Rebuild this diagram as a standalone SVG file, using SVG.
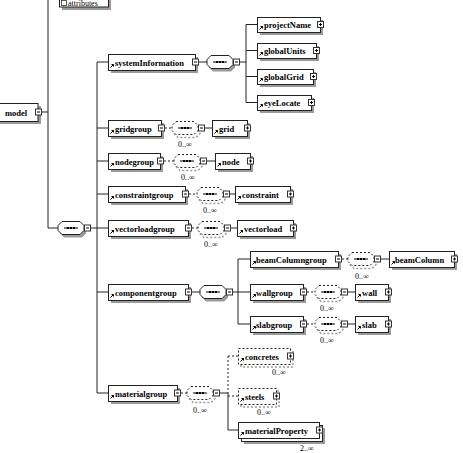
<svg xmlns="http://www.w3.org/2000/svg" xmlns:xlink="http://www.w3.org/1999/xlink" width="463" height="453" viewBox="0 0 463 453">
<style>
.el{fill:#fff;stroke:#222;stroke-width:1}
.opt{fill:#fff;stroke:#222;stroke-width:1;stroke-dasharray:2,2}
.sh{fill:#9a9a9a}
.shd{fill:none;stroke:#9a9a9a;stroke-width:1.5;stroke-dasharray:2,2}
.t{font-family:"Liberation Serif",serif;font-weight:bold;font-size:8.5px;fill:#000}
.o{font-family:"Liberation Serif",serif;font-size:8px;fill:#000}
.ln{fill:none;stroke:#222;stroke-width:1}
.dl{fill:none;stroke:#222;stroke-width:1;stroke-dasharray:2,2}
.pm{fill:#fff;stroke:#333;stroke-width:1}
</style>
<defs>
<g id="minus"><rect class="pm" x="0.5" y="0.5" width="6" height="6"/><path d="M2,3.5H5" stroke="#000" stroke-width="1"/></g>
<g id="plus"><rect class="pm" x="0.5" y="0.5" width="6" height="6"/><path d="M2,3.5H5M3.5,2V5" stroke="#000" stroke-width="1"/></g>
<g id="ref"><path d="M2.5,-2.5L5.5,-5.5M3.5,-5.5H5.5V-3.5" fill="none" stroke="#000" stroke-width="1"/></g>
<g id="seq"><path class="sh" d="M6,3H24L28,7V12L24,16H6L2,12V7Z"/><path class="el" d="M4,0H22L26,4V9L22,13H4L0,9V4Z"/><path d="M6,6.5H20" stroke="#000" stroke-width="1"/><rect x="9" y="5.5" width="2" height="2"/><rect x="12" y="5.5" width="2" height="2"/><rect x="15" y="5.5" width="2" height="2"/></g>
<g id="seqo"><path class="shd" d="M6,3H24L28,7V12L24,16H6L2,12V7Z"/><path class="opt" d="M4,0H22L26,4V9L22,13H4L0,9V4Z"/><path d="M6,6.5H20" stroke="#000" stroke-width="1"/><rect x="9" y="5.5" width="2" height="2"/><rect x="12" y="5.5" width="2" height="2"/><rect x="15" y="5.5" width="2" height="2"/></g>
</defs>
<rect width="463" height="453" fill="#fff"/>

<g id="connectors">
<path class="ln" d="M42,112H48M48,0V228H58M91,228H97M97,62V393M97,62H108M97,128H108M97,161H108M97,194H108M97,228H108M97,292H108M97,393H108"/>
<path class="ln" d="M199,62H207M240,62H246M246,24.5V102.5M246,24.5H257M246,50.5H257M246,76.5H257M246,102.5H257"/>
<path class="dl" d="M165,128H172M164,161H174M189,194H197M192,228H198"/>
<path class="ln" d="M205,128H212M207,161H215M230,194H235M231,228H237"/>
<path class="ln" d="M192,292H200M233,292H238M238,259V324M238,259H250M238,292H250M238,324H250"/>
<path class="dl" d="M342,259H348M307,292H315M307,324H315"/>
<path class="ln" d="M381,259H389M348,292H355M348,324H355"/>
<path class="dl" d="M181,393H187M228,356V393M228,356H238M228,396H238"/>
<path class="ln" d="M220,393H228M228,393V430H238"/>
</g>

<g id="attributes">
<rect class="sh" x="62" y="-7" width="49" height="17"/>
<rect class="el" x="59.5" y="-10" width="49" height="17"/>
<rect x="61.5" y="0.5" width="5" height="5" fill="#fff" stroke="#333" stroke-width="0.8"/>
<text class="o" x="68" y="6" font-size="6px">attributes</text>
</g>

<g id="model">
<rect class="sh" x="0" y="106" width="41" height="18"/>
<rect class="el" x="-3" y="103.5" width="41" height="18"/>
<text class="t" x="5" y="115.5">model</text>
<use href="#minus" x="35" y="108.5"/>
</g>
<g id="model-seq"><use href="#seq" x="58" y="221.5"/><use href="#minus" x="84" y="224.5"/></g>

<g id="systemInformation">
<rect class="sh" x="111" y="57" width="87" height="16"/>
<rect class="el" x="108.5" y="54.5" width="87" height="16"/>
<text class="t" x="115" y="65.5">systemInformation</text>
<use href="#ref" x="108" y="70"/>
<use href="#minus" x="192" y="58.5"/>
</g>
<g id="systemInformation-seq"><use href="#seq" x="207" y="55.5"/><use href="#minus" x="233" y="58.5"/></g>

<g id="projectName">
<rect class="sh" x="260" y="20" width="63" height="15"/>
<rect class="el" x="257.5" y="17.5" width="63" height="15"/>
<text class="t" x="264" y="28">projectName</text>
<use href="#ref" x="257" y="32"/>
<use href="#plus" x="317" y="21"/>
</g>
<g id="globalUnits">
<rect class="sh" x="260" y="46" width="59" height="15"/>
<rect class="el" x="257.5" y="43.5" width="59" height="15"/>
<text class="t" x="264" y="54">globalUnits</text>
<use href="#ref" x="257" y="58"/>
<use href="#plus" x="313" y="47"/>
</g>
<g id="globalGrid">
<rect class="sh" x="260" y="72" width="56" height="15"/>
<rect class="el" x="257.5" y="69.5" width="56" height="15"/>
<text class="t" x="264" y="80">globalGrid</text>
<use href="#ref" x="257" y="84"/>
<use href="#plus" x="310" y="73"/>
</g>
<g id="eyeLocate">
<rect class="sh" x="260" y="98" width="54" height="15"/>
<rect class="el" x="257.5" y="95.5" width="54" height="15"/>
<text class="t" x="264" y="106">eyeLocate</text>
<use href="#ref" x="257" y="110"/>
<use href="#plus" x="308" y="99"/>
</g>

<g id="gridgroup">
<rect class="sh" x="111" y="123" width="53" height="16"/>
<rect class="el" x="108.5" y="120.5" width="53" height="16"/>
<text class="t" x="115" y="131.5">gridgroup</text>
<use href="#ref" x="108" y="136"/>
<use href="#minus" x="158" y="124.5"/>
</g>
<g id="gridgroup-seq"><use href="#seqo" x="172" y="121.5"/><use href="#minus" x="198" y="124.5"/><text class="o" x="178" y="147">0..∞</text></g>
<g id="grid">
<rect class="sh" x="215" y="123" width="35" height="16"/>
<rect class="el" x="212.5" y="120.5" width="35" height="16"/>
<text class="t" x="219" y="131.5">grid</text>
<use href="#ref" x="212" y="136"/>
<use href="#plus" x="244" y="124.5"/>
</g>

<g id="nodegroup">
<rect class="sh" x="111" y="156" width="52" height="16"/>
<rect class="el" x="108.5" y="153.5" width="52" height="16"/>
<text class="t" x="115" y="164.5">nodegroup</text>
<use href="#ref" x="108" y="169"/>
<use href="#minus" x="157" y="157.5"/>
</g>
<g id="nodegroup-seq"><use href="#seqo" x="174" y="154.5"/><use href="#minus" x="200" y="157.5"/><text class="o" x="181" y="180">0..∞</text></g>
<g id="node">
<rect class="sh" x="218" y="156" width="35" height="16"/>
<rect class="el" x="215.5" y="153.5" width="35" height="16"/>
<text class="t" x="222" y="164.5">node</text>
<use href="#ref" x="215" y="169"/>
<use href="#plus" x="247" y="157.5"/>
</g>

<g id="constraintgroup">
<rect class="sh" x="111" y="189" width="77" height="16"/>
<rect class="el" x="108.5" y="186.5" width="77" height="16"/>
<text class="t" x="115" y="197.5">constraintgroup</text>
<use href="#ref" x="108" y="202"/>
<use href="#minus" x="182" y="190.5"/>
</g>
<g id="constraintgroup-seq"><use href="#seqo" x="197" y="187.5"/><use href="#minus" x="223" y="190.5"/><text class="o" x="203" y="213">0..∞</text></g>
<g id="constraint">
<rect class="sh" x="238" y="189" width="55" height="16"/>
<rect class="el" x="235.5" y="186.5" width="55" height="16"/>
<text class="t" x="242" y="197.5">constraint</text>
<use href="#ref" x="235" y="202"/>
<use href="#plus" x="287" y="190.5"/>
</g>

<g id="vectorloadgroup">
<rect class="sh" x="111" y="223" width="80" height="16"/>
<rect class="el" x="108.5" y="220.5" width="80" height="16"/>
<text class="t" x="115" y="231.5">vectorloadgroup</text>
<use href="#ref" x="108" y="236"/>
<use href="#minus" x="185" y="224.5"/>
</g>
<g id="vectorloadgroup-seq"><use href="#seqo" x="198" y="221.5"/><use href="#minus" x="224" y="224.5"/><text class="o" x="204" y="247">0..∞</text></g>
<g id="vectorload">
<rect class="sh" x="240" y="223" width="56" height="16"/>
<rect class="el" x="237.5" y="220.5" width="56" height="16"/>
<text class="t" x="244" y="231.5">vectorload</text>
<use href="#ref" x="237" y="236"/>
<use href="#plus" x="290" y="224.5"/>
</g>

<g id="componentgroup">
<rect class="sh" x="111" y="287" width="80" height="16"/>
<rect class="el" x="108.5" y="284.5" width="80" height="16"/>
<text class="t" x="115" y="295.5">componentgroup</text>
<use href="#ref" x="108" y="300"/>
<use href="#minus" x="185" y="288.5"/>
</g>
<g id="componentgroup-seq"><use href="#seq" x="200" y="285.5"/><use href="#minus" x="226" y="288.5"/></g>

<g id="beamColumngroup">
<rect class="sh" x="253" y="254" width="88" height="16"/>
<rect class="el" x="250.5" y="251.5" width="88" height="16"/>
<text class="t" x="256" y="262.5">beamColumngroup</text>
<use href="#ref" x="250" y="267"/>
<use href="#minus" x="335" y="255.5"/>
</g>
<g id="beamColumngroup-seq"><use href="#seqo" x="348" y="252.5"/><use href="#minus" x="374" y="255.5"/><text class="o" x="355" y="279">0..∞</text></g>
<g id="beamColumn">
<rect class="sh" x="392" y="254" width="65" height="16"/>
<rect class="el" x="389.5" y="251.5" width="65" height="16"/>
<text class="t" x="395" y="262.5">beamColumn</text>
<use href="#ref" x="389" y="267"/>
<use href="#plus" x="451" y="255.5"/>
</g>

<g id="wallgroup">
<rect class="sh" x="253" y="287" width="53" height="16"/>
<rect class="el" x="250.5" y="284.5" width="53" height="16"/>
<text class="t" x="256" y="295.5">wallgroup</text>
<use href="#ref" x="250" y="300"/>
<use href="#minus" x="300" y="288.5"/>
</g>
<g id="wallgroup-seq"><use href="#seqo" x="315" y="285.5"/><use href="#minus" x="341" y="288.5"/><text class="o" x="320" y="311">0..∞</text></g>
<g id="wall">
<rect class="sh" x="358" y="287" width="33" height="16"/>
<rect class="el" x="355.5" y="284.5" width="33" height="16"/>
<text class="t" x="362" y="295.5">wall</text>
<use href="#ref" x="355" y="300"/>
<use href="#plus" x="385" y="288.5"/>
</g>

<g id="slabgroup">
<rect class="sh" x="253" y="319" width="53" height="16"/>
<rect class="el" x="250.5" y="316.5" width="53" height="16"/>
<text class="t" x="256" y="327.5">slabgroup</text>
<use href="#ref" x="250" y="332"/>
<use href="#minus" x="300" y="320.5"/>
</g>
<g id="slabgroup-seq"><use href="#seqo" x="315" y="317.5"/><use href="#minus" x="341" y="320.5"/><text class="o" x="320" y="343">0..∞</text></g>
<g id="slab">
<rect class="sh" x="358" y="319" width="33" height="16"/>
<rect class="el" x="355.5" y="316.5" width="33" height="16"/>
<text class="t" x="362" y="327.5">slab</text>
<use href="#ref" x="355" y="332"/>
<use href="#plus" x="385" y="320.5"/>
</g>

<g id="materialgroup">
<rect class="sh" x="111" y="388" width="69" height="16"/>
<rect class="el" x="108.5" y="385.5" width="69" height="16"/>
<text class="t" x="115" y="396.5">materialgroup</text>
<use href="#ref" x="108" y="401"/>
<use href="#minus" x="174" y="389.5"/>
</g>
<g id="materialgroup-seq"><use href="#seqo" x="187" y="386.5"/><use href="#minus" x="213" y="389.5"/><text class="o" x="193" y="413">0..∞</text></g>

<g id="concretes">
<rect class="shd" x="241" y="351" width="52" height="16"/>
<rect class="opt" x="238.5" y="348.5" width="52" height="16"/>
<text class="t" x="245" y="359.5">concretes</text>
<use href="#ref" x="238" y="364"/>
<use href="#plus" x="287" y="352.5"/>
<text class="o" x="272" y="375">0..∞</text>
</g>
<g id="steels">
<rect class="shd" x="241" y="391" width="38" height="16"/>
<rect class="opt" x="238.5" y="388.5" width="38" height="16"/>
<text class="t" x="245" y="399.5">steels</text>
<use href="#ref" x="238" y="404"/>
<use href="#plus" x="273" y="392.5"/>
<text class="o" x="257" y="415">0..∞</text>
</g>
<g id="materialProperty">
<rect class="sh" x="244" y="428" width="81" height="16"/>
<rect class="el" x="241.5" y="425.5" width="81" height="16"/>
<rect class="el" x="238.5" y="422.5" width="81" height="16"/>
<text class="t" x="245" y="433.5">materialProperty</text>
<use href="#ref" x="238" y="438"/>
<use href="#plus" x="316" y="426.5"/>
<text class="o" x="300" y="451">2..∞</text>
</g>
</svg>
